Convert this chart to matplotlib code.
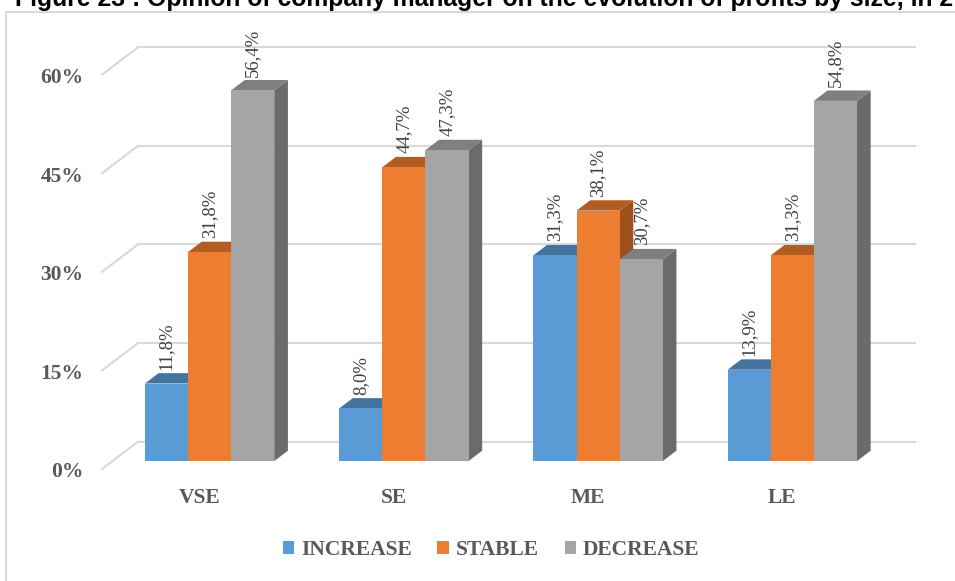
import matplotlib
matplotlib.use("Agg")
import matplotlib.pyplot as plt
from matplotlib.patches import Polygon, Rectangle, Patch

plt.rcParams['font.family'] = ['Liberation Serif', 'DejaVu Serif']

sizes = ['VSE', 'SE', 'ME', 'LE']
series = ['INCREASE', 'STABLE', 'DECREASE']
increase = [11.8, 8.0, 31.3, 13.9]
stable = [31.8, 44.7, 38.1, 31.3]
decrease = [56.4, 47.3, 30.7, 54.8]
yticks = [0, 15, 30, 45, 60]

front_cols = ['#5B9BD5', '#ED7D31', '#A5A5A5']
top_cols = ['#44739F', '#B35D22', '#7F7F7F']
side_cols = ['#3E6A93', '#A0511B', '#6B6B6B']

W, H = 955, 581
fig = plt.figure(figsize=(W / 100, H / 100), dpi=100)

# back wall of the 3d box, in pixels
wall_l, wall_r, wall_base, px_per_15 = 138, 915, 441.7, 98.6
ax = fig.add_axes([wall_l / W, (H - wall_base) / H,
                   (wall_r - wall_l) / W, 4 * px_per_15 / H])
ax.set_xlim(-0.5, 3.5)
ax.set_ylim(0, 60)
ax.axis('off')

# pixel -> data scale
xu = 4 / (wall_r - wall_l)
yu = 15 / px_per_15
# floor depth (front edge -> back wall)
Dx, Dy = 36 * xu, 27.3 * yu
t0, t1 = 0.29, 0.67  # bar front / back depth fractions
grid_col = '#D9D9D9'

for v in yticks:
    ax.plot([-0.5, 3.5], [v, v], color=grid_col, lw=1.5, clip_on=False, zorder=1)
    ax.plot([-0.5, -0.5 - Dx], [v, v - Dy], color=grid_col, lw=1.5,
            clip_on=False, zorder=1)
    ax.annotate(f'{v}%', (-0.5 - Dx, v - Dy), xytext=(-13.5, -2.5),
                textcoords='offset points', ha='right', va='center',
                fontsize=15.5, fontweight='bold', color='#595959',
                annotation_clip=False)

bw = 0.666 / 3
ox, oy = -(1 - t0) * Dx, -(1 - t0) * Dy
ddx, ddy = (t1 - t0) * Dx, (t1 - t0) * Dy
z = 2
for i, name in enumerate(sizes):
    vals = [increase[i], stable[i], decrease[i]]
    for j, v in enumerate(vals):
        xf = i - 0.333 + j * bw + ox
        yb = oy
        yt = oy + v
        side = Polygon([(xf + bw, yb), (xf + bw, yt), (xf + bw + ddx, yt + ddy),
                        (xf + bw + ddx, yb + ddy)], closed=True,
                       facecolor=side_cols[j], edgecolor='none',
                       clip_on=False, zorder=z)
        top = Polygon([(xf, yt), (xf + bw, yt), (xf + bw + ddx, yt + ddy),
                       (xf + ddx, yt + ddy)], closed=True,
                      facecolor=top_cols[j], edgecolor='none',
                      clip_on=False, zorder=z)
        ax.add_patch(side)
        ax.add_patch(top)
        ax.bar(xf, v, width=bw, bottom=yb, align='edge', color=front_cols[j],
               clip_on=False, zorder=z + 0.5)
        z += 1
    for j, v in enumerate(vals):
        xf = i - 0.333 + j * bw + ox
        ax.annotate(f'{v:.1f}%'.replace('.', ','), (xf + bw / 2, oy + v + ddy),
                    xytext=(0, 2.5), textcoords='offset points', rotation=90,
                    ha='center', va='bottom', fontsize=13.5, color='#404040',
                    annotation_clip=False, zorder=50)
    ax.annotate(name, (i - Dx, -Dy), xytext=(0, -21), textcoords='offset points',
                ha='center', va='center', fontsize=15.5, fontweight='bold',
                color='#595959', annotation_clip=False)

handles = [Patch(facecolor=c, edgecolor='none') for c in front_cols]
leg = fig.legend(handles, series, loc='center', bbox_to_anchor=(491 / W, 31 / H),
                 ncol=3, frameon=False, handlelength=0.55, handleheight=0.55,
                 handletextpad=0.3, columnspacing=1.2,
                 prop={'family': 'Liberation Serif', 'weight': 'bold', 'size': 15.5})
for t in leg.get_texts():
    t.set_color('#595959')

# chart frame
fig.patches.append(Rectangle((6 / W, -0.1), 1.2, 1.1 - 12 / H,
                             transform=fig.transFigure, fill=False,
                             edgecolor='#D9D9D9', lw=1.5))

fig.text(953 / W, 1 - 5.7 / H,
         'Figure 23 : Opinion of company manager on the evolution of profits by size, in 2',
         ha='right', va='baseline', fontsize=17.8, fontweight='bold',
         family='Liberation Sans', color='#000000')

fig.savefig('out.png', dpi=100)
